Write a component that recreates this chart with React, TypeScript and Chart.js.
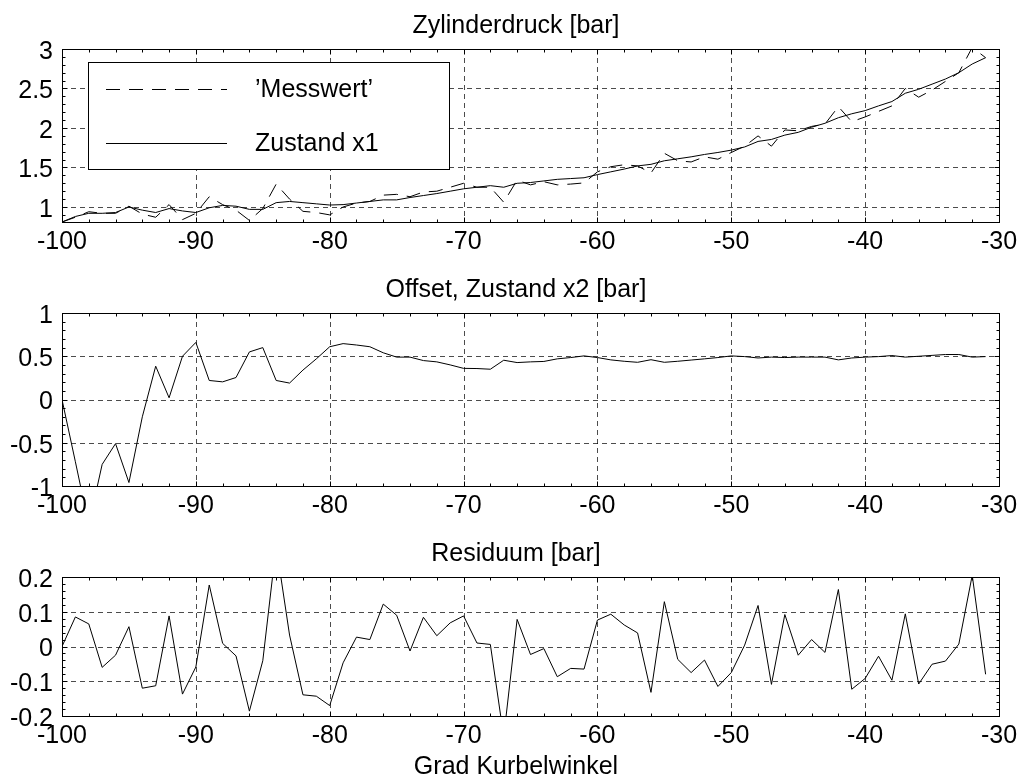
import React, { useEffect, useRef } from 'react';
import { Chart, registerables } from 'chart.js';

Chart.register(...registerables);

// Kurbelwinkel in Grad
const kurbelwinkel = [
  -100, -99, -98, -97, -96, -95, -94, -93, -92, -91,
  -90, -89, -88, -87, -86, -85, -84, -83, -82, -81,
  -80, -79, -78, -77, -76, -75, -74, -73, -72, -71,
  -70, -69, -68, -67, -66, -65, -64, -63, -62, -61,
  -60, -59, -58, -57, -56, -55, -54, -53, -52, -51,
  -50, -49, -48, -47, -46, -45, -44, -43, -42, -41,
  -40, -39, -38, -37, -36, -35, -34, -33, -32, -31,
];

// Gemessener Zylinderdruck [bar]
const messwert = [
  0.81, 0.87, 0.94, 0.92, 0.92, 1.01, 0.91, 0.87, 1.03, 0.84,
  0.92, 1.13, 1.03, 0.96, 0.83, 0.98, 1.29, 1.10, 0.945, 0.93,
  0.90, 1.00, 1.05, 1.07, 1.15, 1.16, 1.13, 1.19, 1.20, 1.25,
  1.30, 1.25, 1.25, 1.06, 1.34, 1.28, 1.32, 1.28, 1.29, 1.305,
  1.445, 1.51, 1.535, 1.52, 1.43, 1.68, 1.585, 1.57, 1.635, 1.605,
  1.69, 1.77, 1.90, 1.77, 1.975, 1.965, 2.02, 2.05, 2.27, 2.08,
  2.14, 2.21, 2.28, 2.50, 2.39, 2.48, 2.59, 2.70, 3.02, 2.89,
];

// Geschätzter Zustand x1 [bar]
const zustandX1 = [
  0.81, 0.88, 0.92, 0.92, 0.93, 1.00, 0.96, 0.93, 0.98, 0.95,
  0.93, 0.99, 1.02, 1.01, 0.97, 0.97, 1.055, 1.07, 1.055, 1.04,
  1.025, 1.03, 1.05, 1.07, 1.09, 1.09, 1.12, 1.145, 1.17, 1.20,
  1.23, 1.25, 1.27, 1.25, 1.30, 1.31, 1.33, 1.35, 1.36, 1.37,
  1.41, 1.445, 1.48, 1.52, 1.54, 1.585, 1.61, 1.635, 1.665, 1.69,
  1.72, 1.76, 1.83, 1.855, 1.91, 1.945, 2.01, 2.06, 2.13, 2.18,
  2.22, 2.28, 2.335, 2.44, 2.49, 2.555, 2.62, 2.70, 2.81, 2.89,
];

// Offset, Zustand x2 [bar]
const offsetX2 = [
  0.0, -0.72, -1.45, -0.75, -0.51, -0.96, -0.2, 0.385, 0.02, 0.5,
  0.66, 0.22, 0.204, 0.254, 0.55, 0.6, 0.22, 0.19, 0.34, 0.47,
  0.61, 0.646, 0.63, 0.61, 0.54, 0.49, 0.49, 0.45, 0.435, 0.4,
  0.36, 0.358, 0.35, 0.454, 0.427, 0.435, 0.44, 0.47, 0.485, 0.504,
  0.485, 0.458, 0.442, 0.43, 0.46, 0.43, 0.442, 0.456, 0.47, 0.485,
  0.504, 0.496, 0.48, 0.49, 0.485, 0.49, 0.49, 0.49, 0.458, 0.48,
  0.49, 0.496, 0.508, 0.49, 0.5, 0.51, 0.52, 0.52, 0.49, 0.496,
];

// Residuum [bar]
const residuum = [
  0.0, 0.085, 0.065, -0.06, -0.025, 0.057, -0.12, -0.113, 0.088, -0.137,
  -0.059, 0.177, 0.009, -0.027, -0.186, -0.041, 0.29, 0.033, -0.139, -0.143,
  -0.17, -0.047, 0.027, 0.02, 0.122, 0.09, -0.013, 0.084, 0.031, 0.068,
  0.088, 0.01, 0.006, -0.26, 0.078, -0.023, -0.006, -0.087, -0.063, -0.065,
  0.076, 0.093, 0.062, 0.039, -0.132, 0.129, -0.037, -0.075, -0.039, -0.115,
  -0.075, 0.004, 0.118, -0.109, 0.092, -0.025, 0.02, -0.017, 0.164, -0.123,
  -0.092, -0.028, -0.097, 0.094, -0.108, -0.051, -0.042, 0.007, 0.205, -0.08,
];

const xTicks = [-100, -90, -80, -70, -60, -50, -40, -30];
const yTicksDruck = [1, 1.5, 2, 2.5, 3];
const yTicksOffset = [-1, -0.5, 0, 0.5, 1];
const yTicksResiduum = [-0.2, -0.1, 0, 0.1, 0.2];

const titleDruck = 'Zylinderdruck [bar]';
const titleOffset = 'Offset, Zustand x2 [bar]';
const titleResiduum = 'Residuum [bar]';
const xAxisTitle = 'Grad Kurbelwinkel';
const labelMesswert = '\u2019Messwert\u2019';
const labelZustand = 'Zustand x1';

const FONT_FAMILY = '"Liberation Sans", Arial, Helvetica, sans-serif';
const FONT_SIZE = 25;
const GRID_COLOR = 'rgba(0,0,0,0.7)';
const GRID_DASH = [5, 4];
const MESS_DASH = [14, 9];

const PAGE_W = 1022;
const PAGE_H = 780;
// canvas is a little wider than the page so the centred titles sit over the figure centre
const CANVAS_W = 1032;

// Axes box, dashed grid, inner tick marks and the boxed legend
const axesFrame = {
  id: 'axesFrame',
  beforeDatasetsDraw(chart: any) {
    const { ctx, chartArea: a } = chart;
    const xs = chart.scales.x;
    const ys = chart.scales.y;
    ctx.save();
    ctx.strokeStyle = GRID_COLOR;
    ctx.lineWidth = 1;
    ctx.setLineDash(GRID_DASH);
    ctx.beginPath();
    for (const t of xs.ticks) {
      if (t.value <= xs.min + 1e-9 || t.value >= xs.max - 1e-9) continue;
      const px = Math.round(xs.getPixelForValue(t.value)) + 0.5;
      ctx.moveTo(px, a.top);
      ctx.lineTo(px, a.bottom);
    }
    for (const t of ys.ticks) {
      if (t.value <= ys.min + 1e-9 || t.value >= ys.max - 1e-9) continue;
      const py = Math.round(ys.getPixelForValue(t.value)) + 0.5;
      ctx.moveTo(a.left, py);
      ctx.lineTo(a.right, py);
    }
    ctx.stroke();
    ctx.restore();
  },
  afterDatasetsDraw(chart: any, _args: any, opts: any) {
    const { ctx, chartArea: a } = chart;
    const xs = chart.scales.x;
    const ys = chart.scales.y;
    const L = Math.round(a.left) + 0.5;
    const R = Math.round(a.right) + 0.5;
    const T = Math.round(a.top) + 0.5;
    const B = Math.round(a.bottom) + 0.5;
    ctx.save();
    ctx.strokeStyle = '#000';
    ctx.lineWidth = 1;
    ctx.setLineDash([]);
    ctx.beginPath();
    // minor and major ticks pointing inward on all four sides
    const xStep = opts.xMinor;
    for (let i = Math.ceil(xs.min / xStep - 1e-9); i * xStep <= xs.max + 1e-9; i++) {
      const px = Math.round(xs.getPixelForValue(i * xStep)) + 0.5;
      ctx.moveTo(px, B); ctx.lineTo(px, B - 3);
      ctx.moveTo(px, T); ctx.lineTo(px, T + 3);
    }
    const yStep = opts.yMinor;
    for (let i = Math.ceil(ys.min / yStep - 1e-9); i * yStep <= ys.max + 1e-9; i++) {
      const py = Math.round(ys.getPixelForValue(i * yStep)) + 0.5;
      ctx.moveTo(L, py); ctx.lineTo(L + 3, py);
      ctx.moveTo(R, py); ctx.lineTo(R - 3, py);
    }
    for (const t of xs.ticks) {
      const px = Math.round(xs.getPixelForValue(t.value)) + 0.5;
      ctx.moveTo(px, B); ctx.lineTo(px, B - 5);
      ctx.moveTo(px, T); ctx.lineTo(px, T + 5);
    }
    for (const t of ys.ticks) {
      const py = Math.round(ys.getPixelForValue(t.value)) + 0.5;
      ctx.moveTo(L, py); ctx.lineTo(L + 5, py);
      ctx.moveTo(R, py); ctx.lineTo(R - 5, py);
    }
    ctx.stroke();
    ctx.strokeRect(L, T, R - L, B - T);

    if (opts.legend) {
      const bx = Math.round(a.left + 26) + 0.5;
      const by = Math.round(a.top + 13) + 0.5;
      const bw = 361;
      const bh = 107;
      ctx.fillStyle = '#fff';
      ctx.fillRect(bx, by, bw, bh);
      ctx.strokeRect(bx, by, bw, bh);
      const rows = [40, 94];
      ctx.font = `${FONT_SIZE}px ${FONT_FAMILY}`;
      ctx.textBaseline = 'middle';
      ctx.textAlign = 'left';
      chart.data.datasets.forEach((ds: any, i: number) => {
        const ry = Math.round(a.top + rows[i]) + 0.5;
        ctx.save();
        ctx.setLineDash(ds.borderDash || []);
        ctx.strokeStyle = ds.borderColor;
        ctx.beginPath();
        ctx.moveTo(a.left + 44, ry);
        ctx.lineTo(a.left + 165, ry);
        ctx.stroke();
        ctx.restore();
        ctx.fillStyle = '#000';
        ctx.fillText(ds.label, a.left + 193, ry + 1);
      });
    }
    ctx.restore();
  },
};

function points(values: number[]) {
  return kurbelwinkel.map((w, i) => ({ x: w, y: values[i] }));
}

function lineDataset(label: string, values: number[], dash: number[] = []) {
  return {
    label,
    data: points(values),
    borderColor: '#000',
    borderWidth: 1,
    borderDash: dash,
    pointRadius: 0,
    tension: 0,
    fill: false,
    clip: 0,
  };
}

interface PanelSpec {
  title: string;
  datasets: any[];
  yMin: number;
  yMax: number;
  yTicks: number[];
  yMinor: number;
  xAxisHeight: number;
  legend: boolean;
  subtitle?: string;
}

function makeConfig(p: PanelSpec): any {
  const font = { family: FONT_FAMILY, size: FONT_SIZE, weight: 'normal' as const };
  return {
    type: 'line',
    data: { datasets: p.datasets },
    plugins: [axesFrame],
    options: {
      responsive: false,
      animation: false,
      events: [],
      layout: { padding: { left: 0, right: 0, top: 0, bottom: 0 } },
      scales: {
        x: {
          type: 'linear',
          min: -100,
          max: -30,
          grid: { display: false, drawTicks: false },
          border: { display: false },
          afterBuildTicks: (s: any) => {
            s.ticks = xTicks.map((v) => ({ value: v }));
          },
          afterFit: (s: any) => {
            s.height = p.xAxisHeight;
          },
          ticks: {
            autoSkip: false,
            maxRotation: 0,
            padding: 5,
            color: '#000',
            font,
            callback: (v: number) => String(v),
          },
        },
        y: {
          type: 'linear',
          position: 'left',
          min: p.yMin,
          max: p.yMax,
          grid: { display: false, drawTicks: false },
          border: { display: false },
          afterBuildTicks: (s: any) => {
            s.ticks = p.yTicks.map((v) => ({ value: v }));
          },
          afterFit: (s: any) => {
            s.width = 62;
          },
          ticks: {
            autoSkip: false,
            padding: 9,
            labelOffset: 3,
            color: '#000',
            font,
            callback: (v: number) => String(v),
          },
        },
        // empty strip to the right of the axes box
        yRight: {
          type: 'linear',
          position: 'right',
          display: true,
          min: 0,
          max: 1,
          grid: { display: false, drawTicks: false },
          border: { display: false },
          ticks: { display: false },
          afterFit: (s: any) => {
            s.width = CANVAS_W - 999;
          },
        },
      },
      plugins: {
        legend: { display: false },
        tooltip: { enabled: false },
        title: {
          display: true,
          text: p.title,
          color: '#000',
          font,
          padding: { top: 11, bottom: 8 },
        },
        subtitle: {
          display: !!p.subtitle,
          text: p.subtitle || '',
          position: 'bottom',
          color: '#000',
          font,
          padding: { top: 5, bottom: 0 },
        },
        axesFrame: { xMinor: 2, yMinor: p.yMinor, legend: p.legend },
      },
    },
  };
}

const panels: { top: number; height: number; spec: PanelSpec }[] = [
  {
    top: 0,
    height: 262,
    spec: {
      title: titleDruck,
      datasets: [
        lineDataset(labelMesswert, messwert, MESS_DASH),
        lineDataset(labelZustand, zustandX1),
      ],
      yMin: 0.81,
      yMax: 3,
      yTicks: yTicksDruck,
      yMinor: 0.1,
      xAxisHeight: 40,
      legend: true,
    },
  },
  {
    top: 264,
    height: 262,
    spec: {
      title: titleOffset,
      datasets: [lineDataset('x2', offsetX2)],
      yMin: -1,
      yMax: 1,
      yTicks: yTicksOffset,
      yMinor: 0.1,
      xAxisHeight: 40,
      legend: false,
    },
  },
  {
    top: 528,
    height: 254,
    spec: {
      title: titleResiduum,
      datasets: [lineDataset('Residuum', residuum)],
      yMin: -0.2,
      yMax: 0.2,
      yTicks: yTicksResiduum,
      yMinor: 0.02,
      xAxisHeight: 31,
      legend: false,
      subtitle: xAxisTitle,
    },
  },
];

export default function App() {
  const refs = [useRef<HTMLCanvasElement>(null), useRef<HTMLCanvasElement>(null), useRef<HTMLCanvasElement>(null)];

  useEffect(() => {
    const charts = panels.map((p, i) => new Chart(refs[i].current as HTMLCanvasElement, makeConfig(p.spec)));
    return () => charts.forEach((c) => c.destroy());
  }, []);

  return (
    <div
      style={{
        position: 'absolute',
        left: 0,
        top: 0,
        width: PAGE_W,
        height: PAGE_H,
        overflow: 'hidden',
        background: '#fff',
      }}
    >
      {panels.map((p, i) => (
        <canvas
          key={i}
          ref={refs[i]}
          width={CANVAS_W}
          height={p.height}
          style={{ position: 'absolute', left: 0, top: p.top, width: CANVAS_W, height: p.height, display: 'block' }}
        />
      ))}
    </div>
  );
}
